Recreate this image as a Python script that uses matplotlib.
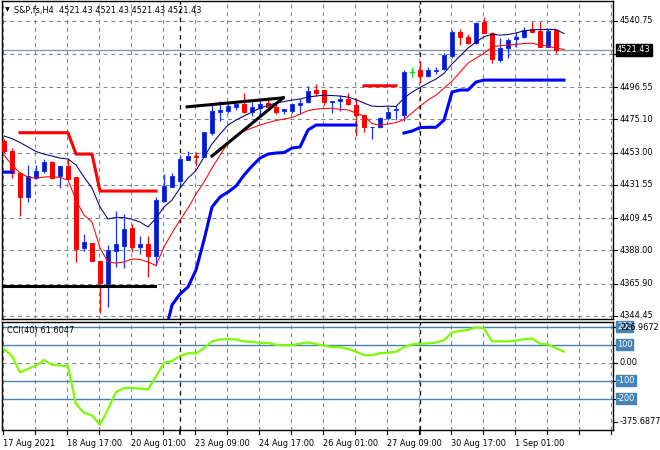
import numpy as np
import matplotlib
matplotlib.use("Agg")
import matplotlib.pyplot as plt
from matplotlib.patches import Rectangle

# ---------------- data ----------------
opens = [4460.9, 4454.1, 4439.7, 4423.7, 4435.9, 4440.8, 4446.8, 4437.5, 4444.1, 4436.8,
         4389.4, 4392.7, 4381.0, 4365.7, 4387.8, 4391.1, 4402.9, 4390.5, 4392.3, 4384.0,
         4421.0, 4430.4, 4434.4, 4447.9, 4450.6, 4450.3, 4466.3, 4480.2, 4480.9, 4483.2,
         4485.3, 4480.2, 4482.9, 4486.2, 4483.6, 4480.7, 4480.9, 4484.7, 4486.5, 4494.7,
         4494.7, 4486.9, 4487.6, 4488.5, 4484.7, 4478.0, 4469.9, 4469.9, 4475.8, 4481.4,
         4478.0, 4506.8, 4508.0, 4504.0, 4507.6, 4508.6, 4517.5, 4533.4, 4529.9, 4525.7,
         4540.1, 4532.8, 4514.6, 4522.6, 4528.6, 4529.9, 4535.0, 4534.1, 4523.4, 4534.6]
highs = [4462.0, 4455.9, 4440.0, 4444.8, 4444.8, 4448.6, 4447.5, 4444.1, 4449.2, 4437.0,
         4398.7, 4393.0, 4381.0, 4391.6, 4414.4, 4412.0, 4405.4, 4397.6, 4397.6, 4423.3,
         4438.8, 4439.7, 4451.4, 4454.3, 4453.6, 4467.0, 4485.8, 4487.5, 4487.5, 4486.9,
         4492.5, 4486.9, 4488.5, 4488.5, 4487.5, 4481.8, 4486.2, 4488.5, 4497.3, 4498.4,
         4494.7, 4487.5, 4491.3, 4492.5, 4489.1, 4478.0, 4470.3, 4476.9, 4483.6, 4484.0,
         4508.0, 4510.0, 4513.3, 4510.0, 4510.0, 4519.1, 4534.6, 4535.2, 4531.9, 4540.1,
         4543.2, 4533.4, 4529.2, 4529.2, 4533.4, 4536.8, 4540.1, 4540.1, 4535.2, 4534.6]
lows = [4453.0, 4436.0, 4411.1, 4420.4, 4435.3, 4439.7, 4435.3, 4429.7, 4435.7, 4380.5,
        4387.6, 4381.0, 4346.6, 4350.6, 4377.2, 4376.5, 4387.2, 4385.6, 4370.5, 4377.8,
        4420.4, 4430.0, 4431.5, 4447.9, 4444.1, 4450.0, 4464.7, 4474.2, 4479.6, 4481.4,
        4479.2, 4477.4, 4477.4, 4481.4, 4478.7, 4478.7, 4479.6, 4478.7, 4485.8, 4490.7,
        4484.7, 4479.2, 4480.9, 4484.7, 4464.1, 4466.9, 4461.9, 4469.2, 4474.7, 4474.7,
        4474.0, 4503.3, 4500.0, 4503.3, 4505.3, 4508.0, 4515.9, 4524.6, 4525.2, 4525.2,
        4532.6, 4512.8, 4513.3, 4515.9, 4523.4, 4529.2, 4533.4, 4523.4, 4523.4, 4519.1]
closes = [4454.3, 4439.7, 4423.7, 4437.5, 4440.8, 4446.8, 4436.3, 4444.1, 4435.7, 4388.7,
          4393.4, 4381.2, 4366.5, 4388.1, 4392.3, 4402.0, 4390.5, 4392.3, 4384.5, 4421.5,
          4430.8, 4437.5, 4448.6, 4450.6, 4450.0, 4466.9, 4480.9, 4481.4, 4484.0, 4485.1,
          4480.2, 4483.2, 4485.3, 4483.2, 4480.2, 4481.8, 4485.3, 4486.2, 4494.0, 4492.9,
          4486.5, 4487.5, 4488.5, 4485.4, 4478.0, 4469.9, 4470.3, 4475.8, 4480.2, 4481.8,
          4506.6, 4506.8, 4504.0, 4508.0, 4508.0, 4517.9, 4533.4, 4530.1, 4525.9, 4539.4,
          4532.8, 4515.1, 4522.6, 4527.9, 4529.9, 4534.6, 4533.4, 4523.4, 4534.1, 4521.43]

ma_upper = [4464.1, 4462.4, 4459.8, 4456.8, 4453.8, 4452.1, 4450.8, 4449.4, 4448.8, 4444.8,
            4436.8, 4429.5, 4416.9, 4408.9, 4410.0, 4409.9, 4408.7, 4406.9, 4403.6, 4409.5,
            4416.9, 4421.5, 4429.5, 4436.1, 4441.1, 4450.1, 4458.8, 4465.4, 4471.4, 4474.7,
            4477.4, 4480.0, 4482.7, 4484.4, 4486.0, 4487.0, 4488.0, 4488.7, 4490.0, 4490.7,
            4491.3, 4491.0, 4490.7, 4490.0, 4488.3, 4486.0, 4484.0, 4483.7, 4484.0, 4483.7,
            4489.3, 4493.3, 4496.3, 4499.3, 4502.0, 4505.8, 4512.0, 4517.3, 4522.6, 4526.6,
            4530.1, 4531.9, 4531.2, 4531.6, 4532.6, 4534.1, 4534.6, 4535.0, 4535.0, 4535.0,
            4532.2]
ma_lower = [4451.4, 4444.8, 4439.5, 4436.8, 4436.1, 4436.8, 4437.1, 4436.5, 4434.8, 4421.5,
            4411.5, 4406.9, 4389.6, 4380.3, 4379.6, 4380.3, 4382.3, 4382.0, 4380.3, 4378.0,
            4390.3, 4399.6, 4408.2, 4416.2, 4425.5, 4433.5, 4442.8, 4451.4, 4459.4, 4464.1,
            4467.4, 4469.4, 4471.4, 4473.0, 4474.4, 4475.4, 4476.4, 4478.7, 4481.0, 4482.0,
            4482.4, 4482.5, 4481.8, 4481.4, 4479.4, 4477.4, 4472.4, 4471.4, 4472.1, 4473.0,
            4475.0, 4479.4, 4484.0, 4488.0, 4491.3, 4496.0, 4500.6, 4506.6, 4512.6, 4515.9,
            4519.1, 4523.3, 4524.2, 4524.6, 4525.0, 4525.6, 4525.9, 4524.6, 4523.9, 4522.6,
            4521.7]
nan = np.nan
stop_red = [nan, nan, 4466.3, 4466.3, 4466.3, 4466.3, 4466.3, 4466.3, 4466.3, 4452.1,
            4452.1, 4452.1, 4427.5, 4427.5, 4427.5, 4427.5, 4427.5, 4427.5, 4427.5, 4427.5,
            nan, nan, nan, nan, nan, nan, nan, nan, nan, nan,
            nan, nan, nan, nan, nan, nan, nan, nan, nan, nan,
            nan, nan, nan, nan, nan, 4497.5, 4497.5, 4497.5, 4497.5, 4497.5,
            nan, nan, nan, nan, nan, nan, nan, nan, nan, nan,
            nan, nan, nan, nan, nan, nan, nan, nan, nan, nan, nan]
stop_blue = [4440.1, 4440.1, nan, nan, nan, nan, nan, nan, nan, nan,
             nan, nan, nan, nan, nan, nan, nan, nan, nan, nan,
             4330.0, 4351.7, 4359.0, 4363.7, 4375.0, 4394.9, 4416.9, 4423.5, 4426.8, 4430.8,
             4438.1, 4444.1, 4449.4, 4452.1, 4452.8, 4453.1, 4456.1, 4456.8, 4468.1, 4471.4,
             4471.4, 4471.4, 4471.4, 4471.4, 4471.4, nan, nan, nan, nan, nan,
             4466.1, 4467.4, 4469.7, 4469.9, 4469.9, 4474.7, 4493.3, 4494.7, 4494.7, 4500.0,
             4501.3, 4501.3, 4501.3, 4501.3, 4501.3, 4501.3, 4501.3, 4501.3, 4501.3, 4501.3,
             4501.3]
cci = [75, 38, -54, -35, -16, 15, -12, -16, -20, -231,
       -280, -293, -347, -258, -164, -141, -141, -145, -149, -77,
       0, 9, 38, 52, 52, 81, 119, 129, 131, 129,
       119, 116, 110, 110, 100, 98, 98, 106, 113, 104,
       95, 87, 87, 77, 61, 42, 42, 52, 56, 61,
       87, 102, 106, 108, 112, 125, 169, 177, 183, 197,
       192, 119, 119, 119, 123, 131, 135, 106, 102, 81,
       61.6047]

# drawn objects (bar index, price)
support_x = [-0.1, 18.9]
support_y = [4364.5, 4364.5]
wedge_upper_x = [22.9, 34.9]
wedge_upper_y = [4483.5, 4489.5]
wedge_lower_x = [26.0, 34.9]
wedge_lower_y = [4450.8, 4489.5]

price_ticks = [4540.75, 4518.65, 4496.55, 4475.10, 4453.00, 4431.55, 4409.45, 4388.00, 4365.90, 4344.45]
last_price = 4521.43
cci_levels = [200, 100, -100, -200]
cci_top, cci_bottom = 226.9672, -375.6877
time_labels = ["17 Aug 2021", "18 Aug 17:00", "20 Aug 01:00", "23 Aug 09:00", "24 Aug 17:00",
               "26 Aug 01:00", "27 Aug 09:00", "30 Aug 17:00", "1 Sep 01:00"]
label_bars = [0, 8, 16, 24, 32, 40, 48, 56, 64]
separator_bars = [22, 52]

# ---------------- figure ----------------
W, H = 660, 450
fig = plt.figure(figsize=(W / 100, H / 100), dpi=100)
fig.patch.set_facecolor("white")
FONT = "DejaVu Sans"
FS = 5.9

def ax_rect(x0, y0, x1, y1):
    return [x0 / W, 1 - y1 / H, (x1 - x0) / W, (y1 - y0) / H]

ax = fig.add_axes(ax_rect(1.5, 1, 613, 319))
axc = fig.add_axes(ax_rect(1.5, 322, 613, 430))

xmin = (1.5 - 4) / 8
xmax = (613 - 4) / 8
grid_col = "#7a8591"

for a in (ax, axc):
    a.set_xlim(xmin, xmax)
    a.set_xticks([])
    a.set_yticks([])
    for s in a.spines.values():
        s.set_color("black")
        s.set_linewidth(1.0)
    for gx in np.arange(0, 77, 4):
        a.axvline(gx - 0.125, color=grid_col, lw=0.8, ls=(0, (3.5, 3.5)), zorder=0)
    for sx in separator_bars:
        a.axvline(sx, color="black", lw=0.9, ls=(0, (3.5, 3.5)), zorder=0.5)

ax.set_ylim(4342.4, 4553.9)
axc.set_ylim(cci_bottom, cci_top)

for p in price_ticks:
    ax.axhline(p, color=grid_col, lw=0.8, ls=(0, (3.5, 3.5)), zorder=0)

# candles
n = len(opens)
bw = 0.62
bull_face, bull_edge = "#0f1f96", "#1530ff"
bear = "#ff0000"
for i in range(n):
    o, h, l, c = opens[i], highs[i], lows[i], closes[i]
    if abs(c - o) < 0.3:
        col = "#00dd00" if i == 51 else (bull_edge if c >= o else bear)
        ax.plot([i, i], [l, h], color=col, lw=0.9, zorder=3, solid_capstyle="butt")
        ax.plot([i - bw / 2, i + bw / 2], [c, c], color=col, lw=0.9, zorder=3)
        continue
    if c > o:
        ax.plot([i, i], [l, h], color=bull_edge, lw=0.9, zorder=3, solid_capstyle="butt")
        ax.add_patch(Rectangle((i - bw / 2, o), bw, c - o, facecolor=bull_face,
                               edgecolor=bull_edge, lw=0.7, zorder=4))
    else:
        ax.plot([i, i], [l, h], color=bear, lw=0.9, zorder=3, solid_capstyle="butt")
        ax.add_patch(Rectangle((i - bw / 2, c), bw, o - c, facecolor=bear,
                               edgecolor=bear, lw=0.7, zorder=4))

xi = np.arange(len(ma_upper))
ax.plot(xi, ma_upper, color="#000080", lw=0.75, zorder=5)
ax.plot(xi, ma_lower, color="#ff0000", lw=0.75, zorder=5)
ax.plot(xi, stop_red, color="#ff0000", lw=2.2, zorder=5)
ax.plot(xi, stop_blue, color="#0000ff", lw=2.2, zorder=5)
ax.plot(support_x, support_y, color="black", lw=2.2, zorder=6)
ax.plot(wedge_upper_x, wedge_upper_y, color="black", lw=2.2, zorder=6)
ax.plot(wedge_lower_x, wedge_lower_y, color="black", lw=2.2, zorder=6)

# current price line
ax.axhline(last_price, color="#8c96a0", lw=1.0, zorder=2)

# title
fig.text(5 / W, 1 - 10 / H, "\u25BC", fontsize=4.5, color="black", va="center", ha="left", family=FONT)
fig.text(14 / W, 1 - 10 / H, "S&P,fs,H4  4521.43 4521.43 4521.43 4521.43",
         fontsize=FS, color="black", va="center", ha="left", family=FONT)

# price axis labels
for p in price_ticks:
    y = ax.transData.transform((0, p))[1]
    fy = y / fig.bbox.height
    fig.add_artist(plt.Line2D([613 / W, 617 / W], [fy, fy], color="black", lw=0.8))
    if abs(p - 4518.65) < 0.01:
        continue
    fig.text(620 / W, fy, f"{p:.2f}", fontsize=FS, va="center", ha="left", family=FONT)
# last price box
y = ax.transData.transform((0, last_price))[1] / fig.bbox.height
fig.text(617 / W, y, f"{last_price:.2f}", fontsize=FS, va="center", ha="left", color="white",
         family=FONT, bbox=dict(boxstyle="square,pad=0.15", fc="black", ec="black"))

# CCI panel
for lv in cci_levels:
    axc.axhline(lv, color="#4682b4", lw=1.0, zorder=1)
axc.axhline(0, color=grid_col, lw=0.8, ls=(0, (3.5, 3.5)), zorder=0)
axc.plot(np.arange(len(cci)), cci, color="#7cfc00", lw=1.6, zorder=5)
fig.text(7 / W, 1 - 331 / H, "CCI(40) 61.6047", fontsize=FS, va="center", ha="left", family=FONT)

def cci_fy(v):
    return axc.transData.transform((0, v))[1] / fig.bbox.height

for lv in cci_levels:
    fig.text(617 / W, cci_fy(lv), f"{lv:d}", fontsize=FS, va="center", ha="left", color="white",
             family=FONT, bbox=dict(boxstyle="square,pad=0.12", fc="#4682b4", ec="#4682b4"))
top_fy = 1 - 327 / H
bot_fy = 1 - 422 / H
fig.text(620 / W, top_fy, f"{cci_top:.4f}", fontsize=FS, va="center", ha="left", family=FONT)
fig.text(620 / W, cci_fy(0), "0.00", fontsize=FS, va="center", ha="left", family=FONT)
fig.text(620 / W, bot_fy, f"{cci_bottom:.4f}", fontsize=FS, va="center", ha="left", family=FONT)
for fy in [top_fy, bot_fy, cci_fy(0)] + [cci_fy(v) for v in cci_levels]:
    fig.add_artist(plt.Line2D([613 / W, 617 / W], [fy, fy], color="black", lw=0.8))

# time axis
bottom_fy = 1 - 430 / H
for gx in np.arange(0, 77, 4):
    px = axc.transData.transform((gx - 0.125, 0))[0] / fig.bbox.width
    fig.add_artist(plt.Line2D([px, px], [bottom_fy, bottom_fy - 4 / H], color="black", lw=0.8))
for sx in separator_bars:
    px = axc.transData.transform((sx, 0))[0] / fig.bbox.width
    fig.add_artist(plt.Line2D([px, px], [bottom_fy, bottom_fy - 4 / H], color="black", lw=1.2))
for lb, t in zip(label_bars, time_labels):
    px = axc.transData.transform((lb - 0.125, 0))[0] / fig.bbox.width
    fig.text(px, 1 - 443 / H, t, fontsize=FS, va="center", ha="left", family=FONT)

fig.savefig("out.png", dpi=100, facecolor="white")
